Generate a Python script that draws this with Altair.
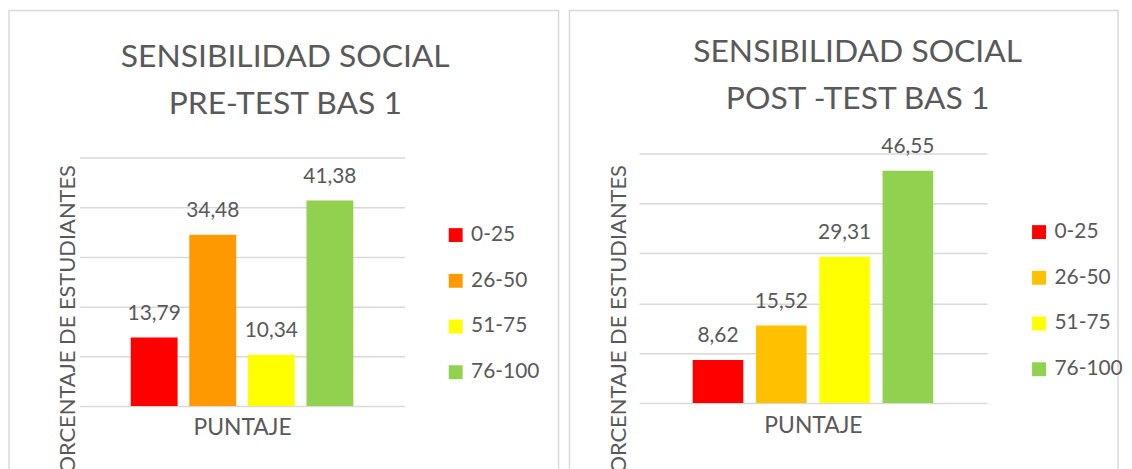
import altair as alt
import pandas as pd

# ---- data ----
categorias = ["0-25", "26-50", "51-75", "76-100"]
pre_test = [13.79, 34.48, 10.34, 41.38]
post_test = [8.62, 15.52, 29.31, 46.55]
colores_pre = ["#FF0000", "#FF9900", "#FFFF00", "#92D050"]
colores_post = ["#FF0000", "#FFC000", "#FFFF00", "#92D050"]
titulo_pre = "SENSIBILIDAD SOCIAL\nPRE-TEST BAS 1"
titulo_post = "SENSIBILIDAD SOCIAL\nPOST -TEST BAS 1"
eje_x = "PUNTAJE"
eje_y = "PORCENTAJE DE ESTUDIANTES"
grid_values = [0, 10, 20, 30, 40, 50]

FONT = "Lato"
TXT = "#595959"
GRID = "#D9D9D9"
H = 475


def panel(values, colors, titulo, width, xr, yr, title_xy, legend_xy, ytitle_x, xtitle_y):
    df = pd.DataFrame({
        "rango": categorias,
        "valor": values,
        "etiqueta": [f"{v:.2f}".replace(".", ",") for v in values],
    })
    x = alt.X(
        "rango:N",
        sort=categorias,
        scale=alt.Scale(range=xr["range"], paddingInner=0.2, paddingOuter=xr["po"]),
        axis=alt.Axis(
            title=eje_x, labels=False, ticks=False, domain=False, grid=False,
            offset=yr[0] - H, titleFont=FONT, titleFontSize=23, titleFontWeight="normal",
            titleColor=TXT, titleBaseline="alphabetic", titleY=xtitle_y,
        ),
    )
    y = alt.Y(
        "valor:Q",
        scale=alt.Scale(domain=[0, 50], range=yr, nice=False, zero=True),
        axis=alt.Axis(
            title=eje_y, values=grid_values, labels=False, ticks=False, domain=False,
            grid=True, gridColor=GRID, gridWidth=1.5, offset=-xr["range"][0],
            titleFont=FONT, titleFontSize=22, titleFontWeight="normal", titleColor=TXT,
            titleAngle=270, titleAlign="right", titleBaseline="alphabetic",
            titleX=ytitle_x, titleY=155,
        ),
    )
    base = alt.Chart(df)
    bars = base.mark_bar().encode(
        x=x,
        y=y,
        color=alt.Color(
            "rango:N",
            sort=categorias,
            scale=alt.Scale(domain=categorias, range=colors),
            legend=alt.Legend(
                title=None, orient="none", legendX=legend_xy[0], legendY=legend_xy[1],
                symbolType="square", symbolSize=196, symbolStrokeWidth=0, symbolOpacity=1,
                labelFont=FONT, labelFontSize=21, labelColor=TXT, labelOffset=5,
                rowPadding=24, padding=0,
            ),
        ),
    )
    labels = base.mark_text(
        dy=-18, baseline="alphabetic", font=FONT, fontSize=21, color=TXT
    ).encode(x=alt.X("rango:N", sort=categorias), y="valor:Q", text="etiqueta:N")
    title = alt.Chart(pd.DataFrame({"t": [titulo]})).mark_text(
        font=FONT, fontSize=32, color=TXT, lineBreak="\n", lineHeight=47,
        baseline="alphabetic", align="center",
    ).encode(text="t:N", x=alt.value(title_xy[0]), y=alt.value(title_xy[1]))
    return alt.layer(bars, labels, title).properties(width=width, height=H)


left = panel(pre_test, colores_pre, titulo_pre, 553,
             {"range": [71, 398], "po": 0.874}, [398, 148],
             (278, 57), (439, 215.5), -5, 29)
right = panel(post_test, colores_post, titulo_post, 552,
              {"range": [70, 420], "po": 0.848}, [395, 144],
              (290, 52), (462, 212.5), -14, 30)

chart = (
    alt.hconcat(left, right, spacing=9)
    .resolve_scale(color="independent", x="independent", y="independent")
    .configure_view(stroke=GRID, strokeWidth=1.5)
    .properties(padding=0, background="white")
)

chart.save("out.html", embed_options={"renderer": "svg", "actions": False})
